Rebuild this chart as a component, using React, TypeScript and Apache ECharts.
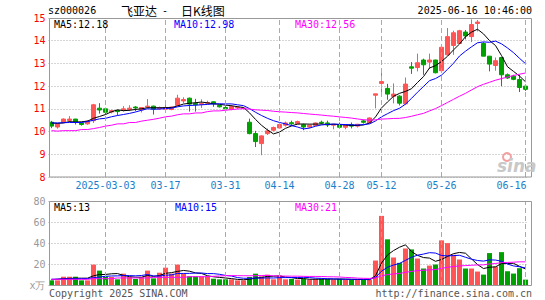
import React, { useEffect, useRef } from 'react';
import * as echarts from 'echarts';

// ---- trading days (2025) ----
const febDays = [18, 19, 20, 21, 24, 25, 26, 27, 28];
const marDays = [3, 4, 5, 6, 7, 10, 11, 12, 13, 14, 17, 18, 19, 20, 21, 24, 25, 26, 27, 28, 31];
const aprDays = [1, 2, 3, 7, 8, 9, 10, 11, 14, 15, 16, 17, 18, 21, 22, 23, 24, 25, 28, 29, 30];
const mayDays = [6, 7, 8, 9, 12, 13, 14, 15, 16, 19, 20, 21, 22, 23, 26, 27, 28, 29, 30];
const junDays = [3, 4, 5, 6, 9, 10, 11, 12, 13, 16];

const tickDates = ['2025-03-03', '2025-03-17', '2025-03-31', '2025-04-14', '2025-04-28', '2025-05-12', '2025-05-26', '2025-06-16'];
const tickLabels = ['2025-03-03', '03-17', '03-31', '04-14', '04-28', '05-12', '05-26', '06-16'];

// ---- OHLC ----
const opens = [10.41, 10.20, 10.40, 10.49, 10.55, 10.38, 10.34, 10.48, 11.03, 11.00,
  10.86, 10.93, 10.93, 10.97, 11.08, 10.96, 11.08, 11.12, 11.00, 10.98,
  10.97, 11.15, 11.35, 11.47, 11.24, 11.20, 11.25, 11.31, 11.15, 11.06,
  10.97, 11.05, 11.02, 10.41, 9.91, 9.47, 9.91, 10.06, 10.16, 10.28,
  10.39, 10.34, 10.30, 10.20, 10.27, 10.41, 10.38, 10.28, 10.31, 10.19,
  10.30, 10.24, 10.47, 10.38, 11.60, 12.12, 11.90, 11.55, 11.56, 11.22,
  12.85, 12.82, 13.15, 13.06, 13.15, 12.68, 13.38, 13.79, 13.88, 14.38,
  14.18, 14.76, 13.88, 13.32, 12.91, 13.26, 12.50, 12.44, 12.29, 12.00];
const closes = [10.24, 10.33, 10.55, 10.55, 10.42, 10.31, 10.46, 11.18, 10.95, 10.85,
  10.92, 10.88, 11.00, 11.03, 11.04, 11.06, 11.12, 10.99, 11.04, 11.06,
  11.08, 11.47, 11.41, 11.21, 11.18, 11.23, 11.28, 11.22, 11.09, 11.00,
  11.10, 11.07, 11.04, 9.91, 9.56, 9.81, 10.03, 10.18, 10.31, 10.38,
  10.34, 10.44, 10.20, 10.28, 10.38, 10.37, 10.29, 10.31, 10.19, 10.29,
  10.24, 10.32, 10.41, 10.60, 11.66, 12.20, 11.65, 11.65, 11.25, 12.09,
  12.79, 13.03, 12.94, 13.15, 12.59, 13.71, 14.18, 14.35, 14.44, 14.21,
  14.71, 14.82, 13.32, 12.97, 13.12, 12.50, 12.36, 12.30, 11.94, 11.86];
const lows = [10.15, 10.13, 10.38, 10.43, 10.31, 10.26, 10.30, 10.38, 10.79, 10.76,
  10.80, 10.71, 10.88, 10.90, 10.90, 10.84, 11.02, 10.75, 10.96, 10.95,
  10.94, 11.12, 11.25, 10.88, 10.88, 11.04, 11.20, 11.09, 11.06, 10.85,
  10.94, 11.00, 10.98, 9.88, 9.32, 8.96, 9.85, 10.00, 10.12, 10.22,
  10.25, 10.32, 10.06, 10.15, 10.24, 10.32, 10.20, 10.10, 10.12, 10.10,
  10.14, 10.18, 10.35, 10.38, 11.02, 11.70, 11.40, 11.24, 11.15, 11.19,
  12.54, 12.65, 12.50, 12.76, 12.56, 12.65, 13.35, 13.38, 13.85, 14.06,
  13.94, 14.41, 13.32, 12.65, 12.68, 12.00, 12.32, 12.26, 11.74, 11.79];
const highs = [10.47, 10.36, 10.58, 10.68, 10.56, 10.40, 10.50, 11.22, 11.25, 11.05,
  10.96, 10.95, 11.12, 11.16, 11.12, 11.08, 11.43, 11.14, 11.10, 11.29,
  11.10, 11.62, 11.51, 11.50, 11.44, 11.42, 11.36, 11.33, 11.18, 11.12,
  11.18, 11.12, 11.08, 10.57, 10.03, 9.84, 10.13, 10.22, 10.36, 10.44,
  10.48, 10.48, 10.35, 10.30, 10.40, 10.48, 10.48, 10.33, 10.40, 10.33,
  10.40, 10.34, 10.52, 10.62, 11.66, 12.80, 12.10, 12.12, 11.60, 12.38,
  13.06, 13.43, 13.21, 13.43, 13.16, 13.79, 14.56, 14.44, 14.48, 14.47,
  14.94, 14.91, 13.94, 13.32, 13.26, 13.26, 12.56, 12.50, 12.50, 12.00];

// ---- volume (万) ----
const volumes = [4.4, 4.4, 7.9, 7.9, 7.9, 4.4, 4.4, 19.4, 13.7, 8.3,
  7.6, 5.4, 10.8, 7.6, 5.7, 7.6, 13.7, 6.3, 11.7, 16.5,
  10.8, 19.4, 10.8, 8.3, 8.3, 8.3, 8.3, 6.0, 5.4, 5.4,
  5.4, 4.4, 4.4, 7.6, 10.8, 8.3, 9.8, 5.4, 8.9, 5.4,
  5.8, 5.1, 5.8, 5.1, 5.8, 6.0, 5.8, 5.1, 5.8, 5.1,
  5.1, 5.1, 5.1, 5.1, 23.3, 65.8, 43.5, 26.2, 21.1, 34.8,
  33.9, 25.2, 15.7, 18.5, 19.5, 42.5, 39.9, 28.8, 24.3, 15.7,
  15.7, 12.8, 9.9, 30.4, 17.6, 31.3, 13.1, 10.9, 16.0, 5.1];

// moving-average values before a full window exists
const priceMa5Head = [10.38, 10.36, 10.38, 10.44];
const priceMa10Head = [10.38, 10.38, 10.39, 10.40, 10.40, 10.40, 10.44, 10.50, 10.56];
const priceMa30Head = [10.04, 10.02, 10.04, 10.04, 10.04, 10.09, 10.09, 10.13, 10.18, 10.24,
  10.28, 10.34, 10.34, 10.40, 10.40, 10.46, 10.50, 10.54, 10.59, 10.65,
  10.68, 10.74, 10.78, 10.78, 10.82, 10.82, 10.88, 10.91, 10.91];
const volMa5Head = [5.0, 5.5, 6.0, 6.3];
const volMa10Head = [5.5, 5.6, 5.8, 5.9, 6.0, 6.0, 6.1, 7.0, 7.6];
const volMa30Head = [5.4, 5.4, 5.4, 5.4, 5.4, 5.4, 5.4, 6.0, 6.0, 6.0,
  6.0, 6.7, 6.7, 6.7, 6.7, 6.7, 6.7, 7.3, 7.3, 7.3,
  7.3, 7.3, 7.3, 7.9, 7.9, 7.9, 7.9, 8.3, 8.6];

const priceLegend = ['MA5:12.18', 'MA10:12.98', 'MA30:12.56'];
const volLegend = ['MA5:13', 'MA10:15', 'MA30:21'];

const pad = (n: number) => (n < 10 ? '0' + n : '' + n);
const dates: string[] = [
  ...febDays.map((d) => `2025-02-${pad(d)}`),
  ...marDays.map((d) => `2025-03-${pad(d)}`),
  ...aprDays.map((d) => `2025-04-${pad(d)}`),
  ...mayDays.map((d) => `2025-05-${pad(d)}`),
  ...junDays.map((d) => `2025-06-${pad(d)}`),
];

function movingAverage(vals: number[], n: number, head: number[]) {
  return vals.map((_, i) => {
    if (i < n - 1) return head[i];
    let s = 0;
    for (let k = i - n + 1; k <= i; k++) s += vals[k];
    return +(s / n).toFixed(3);
  });
}

const RED = '#FF5555';
const GREEN = '#00A000';
const MONO = '"DejaVu Sans Mono", monospace';
const CJK = '"Noto Sans CJK SC", sans-serif';
const MA_COLORS = ['#000000', '#0000FF', '#FF00FF'];

function buildOption() {
  const kData = opens.map((o, i) => [o, closes[i], lows[i], highs[i]]);
  const volData = volumes.map((v, i) => ({
    value: v,
    itemStyle: { color: closes[i] >= opens[i] ? RED : GREEN },
  }));
  const pMa = [
    movingAverage(closes, 5, priceMa5Head),
    movingAverage(closes, 10, priceMa10Head),
    movingAverage(closes, 30, priceMa30Head),
  ];
  const vMa = [
    movingAverage(volumes, 5, volMa5Head),
    movingAverage(volumes, 10, volMa10Head),
    movingAverage(volumes, 30, volMa30Head),
  ];
  const vLines = {
    silent: true,
    symbol: ['none', 'none'],
    label: { show: false },
    lineStyle: { color: '#aaaaaa', type: [5, 3], width: 1 },
    data: tickDates.map((d) => ({ xAxis: d })),
  };
  const lastTick = tickDates[tickDates.length - 1];

  const lineSeries = (data: number[], color: string, xi: number) => ({
    type: 'line',
    xAxisIndex: xi,
    yAxisIndex: xi,
    data,
    symbol: 'none',
    smooth: false,
    lineStyle: { color, width: 1 },
    z: 3,
    silent: true,
  });

  const text = (t: string, x: number, y: number, fill: string, opts: any = {}) => ({
    type: 'text',
    x,
    y,
    silent: true,
    z: 100,
    style: {
      text: t,
      fill,
      font: opts.font || `10px ${MONO}`,
      textAlign: opts.align || 'left',
      align: opts.align || 'left',
      textVerticalAlign: 'middle',
      verticalAlign: 'middle',
    },
  });

  return {
    animation: false,
    backgroundColor: '#ffffff',
    grid: [
      { left: 48.5, top: 18, width: 480, height: 159 },
      { left: 48.5, top: 201, width: 480, height: 84 },
    ],
    xAxis: [
      {
        type: 'category',
        gridIndex: 0,
        data: dates,
        boundaryGap: true,
        axisLine: { show: false },
        axisTick: { show: false },
        splitLine: { show: false },
        axisLabel: {
          interval: (_i: number, v: string) => tickDates.includes(v),
          formatter: (v: string) => {
            const lbl = tickLabels[tickDates.indexOf(v)] || '';
            return v === lastTick ? `{r|${lbl}}` : lbl;
          },
          color: '#1b7fcc',
          fontSize: 10,
          fontFamily: MONO,
          margin: 3,
          rich: {
            r: { color: '#1b7fcc', fontSize: 10, fontFamily: MONO, padding: [0, 28, 0, 0] },
          },
        },
      },
      {
        type: 'category',
        gridIndex: 1,
        data: dates,
        boundaryGap: true,
        axisLine: { show: false },
        axisTick: { show: false },
        axisLabel: { show: false },
        splitLine: { show: false },
      },
    ],
    yAxis: [
      {
        type: 'value',
        gridIndex: 0,
        min: 8,
        max: 15,
        interval: 1,
        axisLine: { show: false },
        axisTick: { show: false },
        axisLabel: { color: '#FF0000', fontSize: 10, fontFamily: MONO, margin: 3 },
        splitLine: { lineStyle: { color: '#aaaaaa', type: [1, 2], width: 1 } },
      },
      {
        type: 'value',
        gridIndex: 1,
        min: 0,
        max: 80,
        interval: 20,
        axisLine: { show: false },
        axisTick: { show: false },
        axisLabel: {
          color: '#999999',
          fontSize: 10,
          fontFamily: MONO,
          margin: 3,
          formatter: (v: number) => (v === 0 ? 'x万' : String(v)),
        },
        splitLine: { lineStyle: { color: '#aaaaaa', type: [1, 2], width: 1 } },
      },
    ],
    series: [
      {
        type: 'line',
        xAxisIndex: 0,
        yAxisIndex: 0,
        data: [],
        z: 1,
        markLine: vLines,
      },
      {
        type: 'line',
        xAxisIndex: 1,
        yAxisIndex: 1,
        data: [],
        z: 1,
        markLine: vLines,
      },
      {
        type: 'candlestick',
        xAxisIndex: 0,
        yAxisIndex: 0,
        data: kData,
        barWidth: 5,
        z: 2,
        itemStyle: {
          color: RED,
          color0: GREEN,
          borderColor: RED,
          borderColor0: GREEN,
          borderWidth: 1,
        },
      },
      lineSeries(pMa[0], MA_COLORS[0], 0),
      lineSeries(pMa[1], MA_COLORS[1], 0),
      lineSeries(pMa[2], MA_COLORS[2], 0),
      {
        type: 'bar',
        xAxisIndex: 1,
        yAxisIndex: 1,
        data: volData,
        barWidth: 5,
        z: 2,
      },
      lineSeries(vMa[0], MA_COLORS[0], 1),
      lineSeries(vMa[1], MA_COLORS[1], 1),
      lineSeries(vMa[2], MA_COLORS[2], 1),
    ],
    graphic: [
      // frames
      {
        type: 'rect', silent: true, z: 90,
        shape: { x: 49.5, y: 18.5, width: 482, height: 158.5 },
        style: { fill: 'none', stroke: '#999999', lineWidth: 1 },
      },
      {
        type: 'rect', silent: true, z: 90,
        shape: { x: 49.5, y: 201.5, width: 482, height: 84 },
        style: { fill: 'none', stroke: '#999999', lineWidth: 1 },
      },
      // title row
      text('sz000026', 48, 10.5, '#000000'),
      text('飞亚达', 121, 10.5, '#000000', { font: `12px ${CJK}` }),
      text('-', 162, 10.5, '#000000'),
      text('日K线图', 181, 10.5, '#000000', { font: `12px ${CJK}` }),
      text('2025-06-16 10:46:00', 532, 10.5, '#000000', { align: 'right' }),
      // price legend
      text(priceLegend[0], 54, 24, MA_COLORS[0]),
      text(priceLegend[1], 174, 24, MA_COLORS[1]),
      text(priceLegend[2], 295, 24, MA_COLORS[2]),
      // volume legend
      text(volLegend[0], 54, 207, MA_COLORS[0]),
      text(volLegend[1], 175, 207, MA_COLORS[1]),
      text(volLegend[2], 295, 207, MA_COLORS[2]),
      // footer
      text('Copyright 2025 SINA.COM', 49, 293, '#555555'),
      text('http://finance.sina.com.cn', 532, 293, '#555555', { align: 'right' }),
      // sina watermark
      {
        type: 'circle', silent: true, z: 95,
        shape: { cx: 507, cy: 157, r: 4 },
        style: { fill: 'none', stroke: '#f2a0a0', lineWidth: 2 },
      },
      text('sina', 497, 166, '#c8c8c8', { font: `italic bold 17px "DejaVu Sans", sans-serif` }),
    ],
  };
}

export default function App() {
  const ref = useRef<HTMLDivElement>(null);
  useEffect(() => {
    document.body.style.margin = '0';
    const chart = echarts.init(ref.current as HTMLDivElement, null, { renderer: 'svg' });
    chart.setOption(buildOption() as any);
    return () => chart.dispose();
  }, []);
  return (
    <div
      ref={ref}
      style={{ position: 'absolute', left: 0, top: 0, width: 545, height: 300, background: '#fff' }}
    />
  );
}
